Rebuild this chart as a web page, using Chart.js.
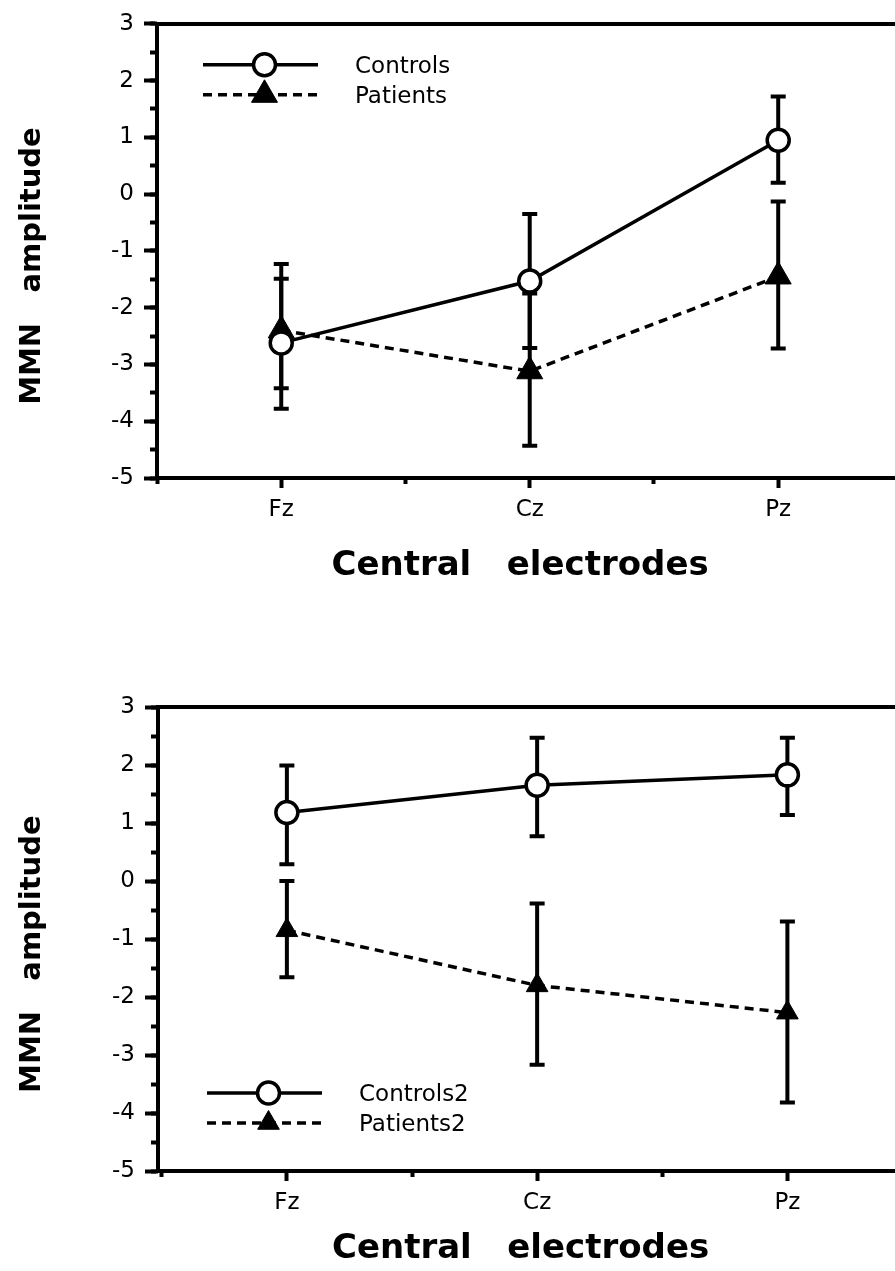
<!DOCTYPE html>
<html>
<head>
<meta charset="utf-8">
<title>MMN amplitude by central electrode</title>
<script src="https://cdn.jsdelivr.net/npm/chart.js@4.4.1/dist/chart.umd.min.js"></script>
<style>
  html, body { margin: 0; padding: 0; background: #fff; overflow: hidden; }
  canvas { position: absolute; left: 0; display: block; }
  #chartTop { top: 0; }
  #chartBottom { top: 635px; }
</style>
</head>
<body>
<canvas id="chartTop" width="895" height="635"></canvas>
<canvas id="chartBottom" width="895" height="636"></canvas>
<script>
// --- Categories / axis ---
const electrodes = ['Fz', 'Cz', 'Pz'];
const yMin = -5;
const yMax = 3;

// --- Top panel ---
const controlsMean = [-2.62, -1.53, 0.95];
const controlsHigh = [-1.49, -0.35, 1.72];
const controlsLow = [-3.42, -2.71, 0.20];
const patientsMean = [-2.40, -3.12, -1.45];
const patientsHigh = [-1.23, -1.75, -0.13];
const patientsLow = [-3.78, -4.43, -2.72];

// --- Bottom panel ---
const controls2Mean = [1.18, 1.65, 1.83];
const controls2High = [1.99, 2.47, 2.47];
const controls2Low = [0.29, 0.77, 1.14];
const patients2Mean = [-0.85, -1.80, -2.27];
const patients2High = [0.00, -0.39, -0.70];
const patients2Low = [-1.66, -3.17, -3.82];

const BLACK = '#000';
const FONT = "'DejaVu Sans', sans-serif";
const AXIS_W = 4;

const toPoints = (means) => means.map((v, i) => ({ x: i, y: v }));

// error bars with caps, drawn under the markers
const errorBars = {
    id: 'errorBars',
    beforeDatasetsDraw(chart) {
        const { ctx, scales: { x, y } } = chart;
        ctx.save();
        ctx.strokeStyle = BLACK;
        ctx.lineWidth = 4;
        chart.data.datasets.forEach(ds => {
            ds.data.forEach((pt, i) => {
                const px = x.getPixelForValue(pt.x);
                const top = y.getPixelForValue(ds.errHigh[i]);
                const bot = y.getPixelForValue(ds.errLow[i]);
                ctx.beginPath();
                ctx.moveTo(px, top);
                ctx.lineTo(px, bot);
                ctx.moveTo(px - 7.5, top);
                ctx.lineTo(px + 7.5, top);
                ctx.moveTo(px - 7.5, bot);
                ctx.lineTo(px + 7.5, bot);
                ctx.stroke();
            });
        });
        ctx.restore();
    }
};

// legend: line sample with the marker in the middle, then the label
const lineLegend = {
    id: 'lineLegend',
    afterDatasetsDraw(chart, args, opts) {
        const { ctx, chartArea } = chart;
        const x0 = chartArea.left + opts.dx;
        let yRow = opts.fromBottom ? chartArea.bottom - opts.dy : chartArea.top + opts.dy;
        chart.data.datasets.forEach(ds => {
            ctx.save();
            ctx.strokeStyle = ds.borderColor;
            ctx.lineWidth = ds.borderWidth;
            ctx.setLineDash(ds.borderDash || []);
            ctx.beginPath();
            ctx.moveTo(x0, yRow);
            ctx.lineTo(x0 + opts.lineLength, yRow);
            ctx.stroke();
            ctx.setLineDash([]);
            ctx.fillStyle = ds.pointBackgroundColor;
            ctx.strokeStyle = ds.pointBorderColor;
            ctx.lineWidth = ds.pointBorderWidth;
            Chart.helpers.drawPoint(ctx, {
                pointStyle: ds.pointStyle,
                radius: ds.pointRadius,
                borderWidth: ds.pointBorderWidth,
                rotation: 0
            }, x0 + opts.lineLength / 2 + 4, yRow);
            ctx.fillStyle = BLACK;
            ctx.font = `23px ${FONT}`;
            ctx.textBaseline = 'middle';
            ctx.textAlign = 'left';
            ctx.fillText(ds.label, x0 + opts.textOffset, yRow + 2);
            ctx.restore();
            yRow += opts.rowGap;
        });
    }
};

const controlsStyle = {
    borderColor: BLACK,
    borderWidth: 3.5,
    pointStyle: 'circle',
    pointRadius: 11,
    pointBorderWidth: 3.5,
    pointBackgroundColor: '#fff',
    pointBorderColor: BLACK
};

const patientsStyle = (radius) => ({
    borderColor: BLACK,
    borderWidth: 3.5,
    borderDash: [9, 6],
    pointStyle: 'triangle',
    pointRadius: radius,
    pointBorderWidth: 1,
    pointBackgroundColor: BLACK,
    pointBorderColor: BLACK
});

const makeChart = (canvasId, datasets, cfg) => {
    const ctx = document.getElementById(canvasId).getContext('2d');
    const xRange = { min: cfg.xMin, max: cfg.xMax };
    return new Chart(ctx, {
        type: 'line',
        data: { datasets },
        plugins: [errorBars, lineLegend],
        options: {
            responsive: false,
            animation: false,
            events: [],
            // the frame runs off the right edge, so no room is reserved for markers
            layout: { autoPadding: false, padding: { top: cfg.top, left: 0, right: 0, bottom: 0 } },
            plugins: {
                legend: { display: false },
                tooltip: { enabled: false },
                lineLegend: cfg.legend
            },
            scales: {
                x: {
                    type: 'linear',
                    position: 'bottom',
                    weight: 1,
                    ...xRange,
                    afterBuildTicks: s => { s.ticks = electrodes.map((_, i) => ({ value: i })); },
                    afterFit: s => { s.height = cfg.xHeight; },
                    ticks: {
                        callback: v => electrodes[v],
                        padding: 8,
                        color: BLACK,
                        autoSkip: false,
                        maxRotation: 0,
                        font: { family: FONT, size: 23 }
                    },
                    grid: { drawOnChartArea: false, tickLength: 10, tickWidth: AXIS_W, tickColor: BLACK },
                    border: { color: BLACK, width: AXIS_W },
                    title: {
                        display: true,
                        text: 'Central   electrodes ',
                        color: BLACK,
                        font: { family: FONT, size: 34, weight: 'bold' },
                        padding: { top: 0, bottom: cfg.xTitlePad }
                    }
                },
                xMinor: {
                    type: 'linear',
                    position: 'bottom',
                    weight: 0,
                    ...xRange,
                    afterBuildTicks: s => { s.ticks = electrodes.map((_, i) => ({ value: i - 0.5 })); },
                    afterFit: s => { s.height = 0; },
                    ticks: { display: false },
                    grid: { drawOnChartArea: false, tickLength: 6, tickWidth: AXIS_W, tickColor: BLACK },
                    border: { display: false }
                },
                xTop: {
                    type: 'linear',
                    position: 'top',
                    ...xRange,
                    // no ticks here, only the frame line along the top
                    afterBuildTicks: s => { s.ticks = []; },
                    afterFit: s => { s.height = 0; },
                    ticks: { display: false },
                    grid: { display: false },
                    border: { color: BLACK, width: AXIS_W }
                },
                y: {
                    position: 'left',
                    weight: 1,
                    min: yMin,
                    max: yMax,
                    afterFit: s => { s.width = cfg.yWidth; },
                    ticks: {
                        stepSize: 1,
                        padding: 10,
                        color: BLACK,
                        font: { family: FONT, size: 23 }
                    },
                    grid: { drawOnChartArea: false, tickLength: 13, tickWidth: AXIS_W, tickColor: BLACK },
                    border: { color: BLACK, width: AXIS_W },
                    title: {
                        display: true,
                        text: 'MMN   amplitude   ',
                        color: BLACK,
                        font: { family: FONT, size: 29, weight: 'bold' },
                        padding: { top: 15, bottom: 0 }
                    }
                },
                yMinor: {
                    position: 'left',
                    weight: 0,
                    min: yMin,
                    max: yMax,
                    afterFit: s => { s.width = 0; },
                    ticks: { display: false, stepSize: 0.5 },
                    grid: { drawOnChartArea: false, tickLength: 7, tickWidth: AXIS_W, tickColor: BLACK },
                    border: { display: false }
                }
            }
        }
    });
};

// --- Top chart ---
makeChart('chartTop', [
    {
        label: 'Controls',
        data: toPoints(controlsMean),
        errHigh: controlsHigh,
        errLow: controlsLow,
        xAxisID: 'x',
        yAxisID: 'y',
        ...controlsStyle
    },
    {
        label: 'Patients',
        data: toPoints(patientsMean),
        errHigh: patientsHigh,
        errLow: patientsLow,
        xAxisID: 'x',
        yAxisID: 'y',
        ...patientsStyle(15)
    }
], {
    top: 17,
    xMin: -0.5,
    xMax: 2.47,
    xHeight: 157,
    xTitlePad: 48,
    yWidth: 157,
    legend: { dx: 46, dy: 41, fromBottom: false, rowGap: 30, lineLength: 115, textOffset: 152 }
});

// --- Bottom chart ---
makeChart('chartBottom', [
    {
        label: 'Controls2',
        data: toPoints(controls2Mean),
        errHigh: controls2High,
        errLow: controls2Low,
        xAxisID: 'x',
        yAxisID: 'y',
        ...controlsStyle
    },
    {
        label: 'Patients2',
        data: toPoints(patients2Mean),
        errHigh: patients2High,
        errLow: patients2Low,
        xAxisID: 'x',
        yAxisID: 'y',
        ...patientsStyle(12.5)
    }
], {
    top: 72,
    xMin: -0.515,
    xMax: 2.43,
    xHeight: 100,
    xTitlePad: 1,
    yWidth: 158,
    legend: { dx: 49, dy: 78, fromBottom: true, rowGap: 30, lineLength: 115, textOffset: 152 }
});
</script>
</body>
</html>
